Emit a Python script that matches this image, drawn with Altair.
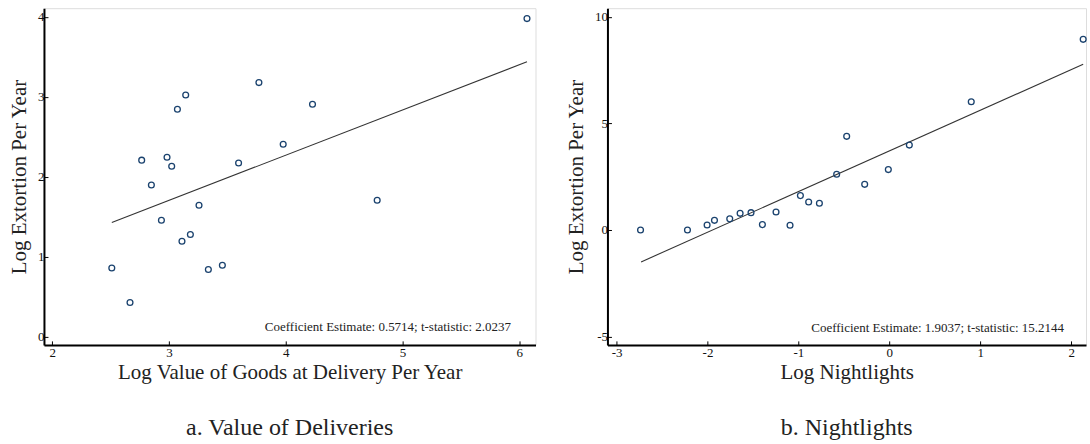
import altair as alt
import pandas as pd

FONT = "Liberation Serif"

# Panel a: Value of deliveries
val_x = [2.767, 3.771, 3.144, 3.073, 2.984, 3.024, 3.597, 2.850, 6.067, 4.230,
         3.979, 2.936, 3.258, 3.112, 3.184, 2.511, 2.667, 3.338, 3.458, 4.784]
val_y = [2.21, 3.18, 3.025, 2.846, 2.246, 2.134, 2.175, 1.90, 3.98, 2.909,
         2.409, 1.459, 1.646, 1.196, 1.28, 0.862, 0.43, 0.842, 0.896, 1.709]
fit_a_x = [2.511, 6.067]
fit_a_y = [1.43, 3.44]
note_a = "Coefficient Estimate: 0.5714; t-statistic: 2.0237"
note_a_pos = [5.93, 0.07]

# Panel b: Nightlights
nl_x = [-2.736, -2.22, -2.004, -1.923, -1.755, -1.641, -1.521, -1.396, -1.246, -1.092,
        -0.978, -0.887, -0.769, -0.579, -0.469, -0.271, -0.011, 0.220, 0.901, 2.132]
nl_y = [0.0, 0.0, 0.23, 0.45, 0.52, 0.78, 0.81, 0.25, 0.84, 0.22,
        1.61, 1.31, 1.25, 2.61, 4.39, 2.14, 2.83, 3.98, 6.01, 8.94]
fit_b_x = [-2.73, 2.132]
fit_b_y = [-1.50, 7.77]
note_b = "Coefficient Estimate: 1.9037; t-statistic: 15.2144"
note_b_pos = [1.92, -4.77]

y_title = "Log Extortion Per Year"


def panel(px, py, fx, fy, note, note_pos, xdom, ydom, xticks, yticks, xtitle, caption, width):
    pts = pd.DataFrame({"x": px, "y": py})
    fit = pd.DataFrame({"x": fx, "y": fy})
    ann = pd.DataFrame({"x": [note_pos[0]], "y": [note_pos[1]], "t": [note]})
    xs = alt.Scale(domain=xdom, nice=False, zero=False)
    ys = alt.Scale(domain=ydom, nice=False, zero=False)
    common = dict(
        grid=False, domainColor="#000", domainWidth=2, tickColor="#000", tickWidth=1,
        tickSize={"expr": "-4"}, labelFont=FONT, labelFontSize=13, labelColor="#111",
        titleFont=FONT, titleFontSize=21, titleFontWeight="normal", titleColor="#222",
        labelExpr="datum.value + ''",
    )
    xax = alt.Axis(values=xticks, title=xtitle, labelPadding=6, titlePadding=2, **common)
    yax = alt.Axis(values=yticks, title=y_title, labelPadding=4, titlePadding=8, **common)
    line = alt.Chart(fit).mark_line(color="#333", strokeWidth=1.1).encode(
        x=alt.X("x:Q", scale=xs, axis=xax), y=alt.Y("y:Q", scale=ys, axis=yax))
    points = alt.Chart(pts).mark_point(
        shape="circle", filled=False, size=34, color="#1a426e", strokeWidth=1.3, opacity=1
    ).encode(x="x:Q", y="y:Q")
    text = alt.Chart(ann).mark_text(
        align="right", baseline="alphabetic", font=FONT, fontSize=13, color="#222"
    ).encode(x="x:Q", y="y:Q", text="t:N")
    return alt.layer(line, points, text).properties(
        width=width, height=337,
        title=alt.TitleParams(caption, orient="bottom", font=FONT, fontSize=24,
                              fontWeight="normal", color="#222", offset=33, anchor="middle"),
    )


left = panel(val_x, val_y, fit_a_x, fit_a_y, note_a, note_a_pos, [1.93, 6.14], [-0.1, 4.11],
             [2, 3, 4, 5, 6], [0, 1, 2, 3, 4], "Log Value of Goods at Delivery Per Year",
             "a. Value of Deliveries", 492)
right = panel(nl_x, nl_y, fit_b_x, fit_b_y, note_b, note_b_pos, [-3.1, 2.163], [-5.39, 10.4],
              [-3, -2, -1, 0, 1, 2], [-5, 0, 5, 10], "Log Nightlights",
              "b. Nightlights", 479)

chart = alt.hconcat(left, right, spacing=28).properties(
    padding={"left": 8, "top": 7, "right": 0, "bottom": 0}
).configure_view(stroke="#333", strokeWidth=1.2).configure(background="white")

chart.save("out.html", embed_options={"renderer": "svg", "actions": False})
